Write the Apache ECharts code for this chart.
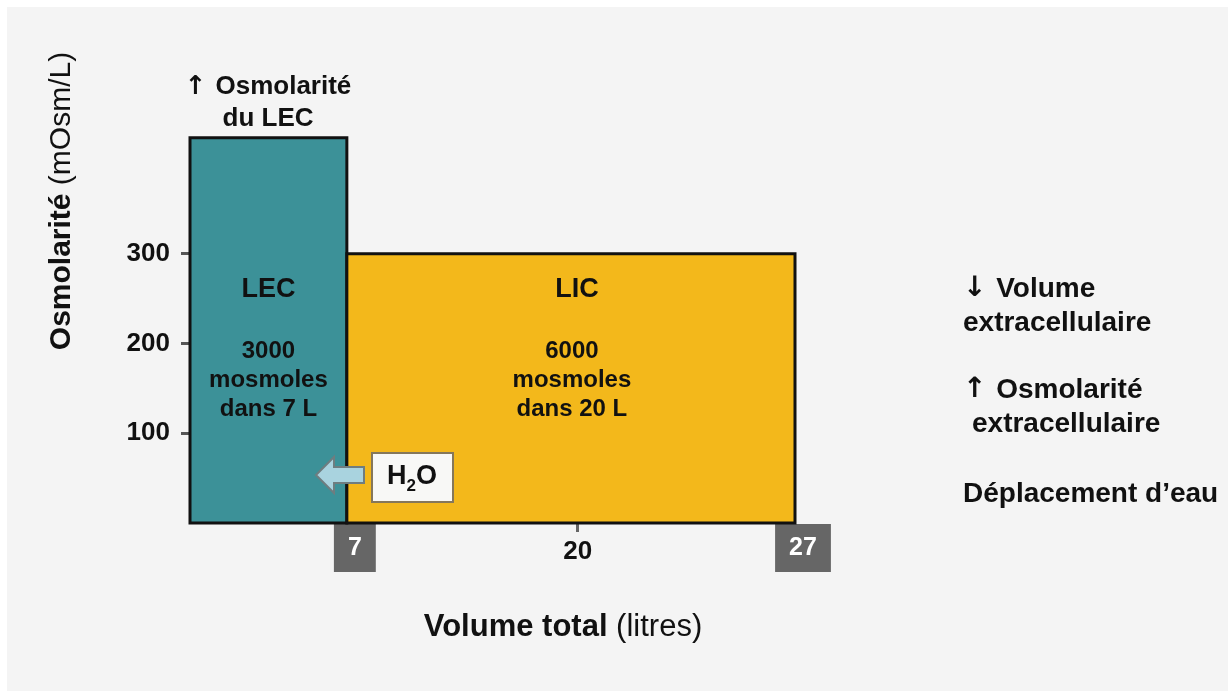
<!DOCTYPE html>
<html>
<head>
<meta charset="utf-8">
<script src="https://cdn.jsdelivr.net/npm/echarts@6/dist/echarts.min.js"></script>
<style>
  html, body { margin: 0; padding: 0; background: #ffffff; }
  #bg { position: absolute; left: 7px; top: 7px; width: 1221px; height: 684px; background: #f4f4f4; }
  #chart { position: absolute; left: 0; top: 0; width: 1228px; height: 691px; }
</style>
</head>
<body>
<div id="bg"></div>
<div id="chart"></div>
<script>
// ---- data ----
const compartments = ['LEC', 'LIC'];
const volumes = [7, 20];                 // litres
const osmolarities = [429, 300];         // mOsm/L
const mosmoles = [3000, 6000];
const xTickValues = [7, 17.3, 27];
const xTickLabels = ['7', '20', '27'];
const yTickValues = [100, 200, 300];

// ---- build ----
const FONT = '"Liberation Sans", Arial, Helvetica, sans-serif';
const ARROWFONT = '"DejaVu Sans", sans-serif';
const fills = ['#3c9198', '#f3b81b'];
let acc = 0;
const rects = compartments.map((c, i) => {
  const s = acc; acc += volumes[i];
  return [s, acc, osmolarities[i], i];
});
const total = acc;

const chart = echarts.init(document.getElementById('chart'), null, { renderer: 'canvas' });

const arrowRich = (size) => ({
  a: { fontFamily: ARROWFONT, fontSize: size, fontWeight: 'bold', fill: '#111' },
  b: { fontFamily: FONT, fontSize: size, fontWeight: 'bold', fill: '#111' }
});

const option = {
  backgroundColor: 'transparent',
  animation: false,
  grid: { left: 190, right: 433, top: 119, bottom: 168 },
  xAxis: {
    type: 'value', min: 0, max: total,
    axisLine: { show: false },
    splitLine: { show: false },
    axisTick: { show: true, customValues: [xTickValues[1]], length: 9, lineStyle: { color: '#666', width: 3 } },
    axisLabel: {
      customValues: xTickValues,
      margin: 1,
      formatter: (v) => {
        const i = xTickValues.indexOf(v);
        const t = xTickLabels[i];
        if (i === 1) return '{p|' + t + '}';
        return '{g| }{b|' + t + '}';
      },
      rich: {
        p: { fontFamily: FONT, fontSize: 26, fontWeight: 'bold', color: '#111', height: 48, lineHeight: 48, padding: [8, 0, 0, 0] },
        g: { width: 16, height: 48, fontSize: 10 },
        b: { fontFamily: FONT, fontSize: 25, fontWeight: 'bold', color: '#fff', backgroundColor: '#666',
             padding: [0, 14, 0, 14], height: 48, lineHeight: 48, align: 'center' }
      }
    }
  },
  yAxis: {
    type: 'value', min: 0, max: 450, interval: 50,
    axisLine: { show: false },
    splitLine: { show: false },
    axisTick: { show: true, customValues: yTickValues, length: 9, lineStyle: { color: '#555', width: 3 } },
    axisLabel: {
      customValues: yTickValues, margin: 20,
      fontFamily: FONT, fontSize: 26, fontWeight: 'bold', color: '#111'
    }
  },
  series: [{
    type: 'custom',
    clip: false,
    data: rects,
    renderItem: function (params, api) {
      const x0 = api.value(0), x1 = api.value(1), h = api.value(2), i = api.value(3);
      const p0 = api.coord([x0, 0]);
      const p1 = api.coord([x1, h]);
      const mid = api.coord([(x0 + x1) / 2, 260]);
      return {
        type: 'group',
        children: [
          {
            type: 'rect',
            shape: { x: p0[0], y: p1[1], width: p1[0] - p0[0], height: p0[1] - p1[1] },
            style: { fill: fills[i], stroke: '#111', lineWidth: 3 }
          },
          {
            type: 'text',
            x: mid[0] + (i === 1 ? 6 : 0), y: mid[1],
            style: { text: compartments[i], fontFamily: FONT, fontSize: 27, fontWeight: 'bold',
                     fill: '#111', align: 'center', verticalAlign: 'middle' }
          },
          {
            type: 'text',
            x: mid[0] + (i === 1 ? 1 : 0), y: mid[1] + 47,
            style: { text: mosmoles[i] + '\nmosmoles\ndans ' + volumes[i] + ' L', fontFamily: FONT,
                     fontSize: 24, fontWeight: 'bold', lineHeight: 29, fill: '#111',
                     align: 'center', verticalAlign: 'top' }
          }
        ]
      };
    }
  }],
  graphic: [
    // y axis title
    {
      type: 'text', x: 62, y: 201, rotation: Math.PI / 2,
      style: {
        text: '{b|Osmolarité }{n|(mOsm/L)}', align: 'center', verticalAlign: 'middle',
        rich: {
          b: { fontFamily: FONT, fontSize: 30, fontWeight: 'bold', fill: '#111' },
          n: { fontFamily: FONT, fontSize: 30, fill: '#111' }
        }
      }
    },
    // x axis title
    {
      type: 'text', x: 563, y: 627,
      style: {
        text: '{b|Volume total }{n|(litres)}', align: 'center', verticalAlign: 'middle',
        rich: {
          b: { fontFamily: FONT, fontSize: 31, fontWeight: 'bold', fill: '#111' },
          n: { fontFamily: FONT, fontSize: 31, fill: '#111' }
        }
      }
    },
    // top annotation
    {
      type: 'text', x: 268, y: 87,
      style: {
        text: '{a|↑ }{b|Osmolarité}', align: 'center', verticalAlign: 'middle',
        rich: arrowRich(26)
      }
    },
    {
      type: 'text', x: 268, y: 119,
      style: { text: 'du LEC', fontFamily: FONT, fontSize: 26, fontWeight: 'bold', fill: '#111',
               align: 'center', verticalAlign: 'middle' }
    },
    // right annotations
    {
      type: 'text', x: 963, y: 289,
      style: { text: '{a|↓ }{b|Volume}', verticalAlign: 'middle', rich: arrowRich(28) }
    },
    {
      type: 'text', x: 963, y: 323,
      style: { text: 'extracellulaire', fontFamily: FONT, fontSize: 28, fontWeight: 'bold', fill: '#111', verticalAlign: 'middle' }
    },
    {
      type: 'text', x: 963, y: 390,
      style: { text: '{a|↑ }{b|Osmolarité}', verticalAlign: 'middle', rich: arrowRich(28) }
    },
    {
      type: 'text', x: 972, y: 424,
      style: { text: 'extracellulaire', fontFamily: FONT, fontSize: 28, fontWeight: 'bold', fill: '#111', verticalAlign: 'middle' }
    },
    {
      type: 'text', x: 963, y: 494,
      style: { text: 'Déplacement d’eau', fontFamily: FONT, fontSize: 28, fontWeight: 'bold', fill: '#111', verticalAlign: 'middle' }
    },
    // H2O arrow
    {
      type: 'polygon', z: 10,
      shape: { points: [[316, 475], [334, 457], [334, 467], [364, 467], [364, 483], [334, 483], [334, 493]] },
      style: { fill: '#a9d3df', stroke: '#6e7d80', lineWidth: 2 }
    },
    // H2O box
    {
      type: 'rect', z: 10,
      shape: { x: 372, y: 453, width: 81, height: 49 },
      style: { fill: '#f8f8f6', stroke: '#85775a', lineWidth: 2 }
    },
    {
      type: 'text', z: 11, x: 412, y: 477,
      style: {
        text: '{a|H}{s|2}{a|O}', align: 'center', verticalAlign: 'middle',
        rich: {
          a: { fontFamily: FONT, fontSize: 27, fontWeight: 'bold', fill: '#111', lineHeight: 30 },
          s: { fontFamily: FONT, fontSize: 17, fontWeight: 'bold', fill: '#111', lineHeight: 30, padding: [18, 0, 0, 0] }
        }
      }
    }
  ]
};
chart.setOption(option);
</script>
</body>
</html>
